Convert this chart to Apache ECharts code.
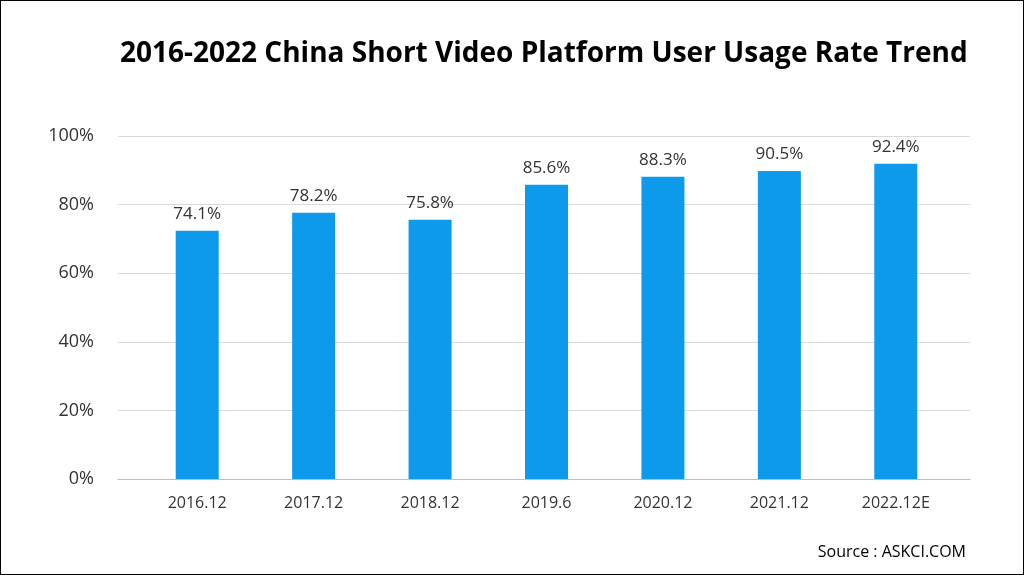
<!DOCTYPE html>
<html><head><meta charset="utf-8">
<script src="https://cdn.jsdelivr.net/npm/echarts@6/dist/echarts.min.js"></script>
<style>html,body{margin:0;padding:0;}#c{width:1022px;height:573px;border:1px solid #000;}</style>
</head><body><div id="c"></div>
<script>
const categories = ['2016.12','2017.12','2018.12','2019.6','2020.12','2021.12','2022.12E'];
const barValues = [72.4, 77.6, 75.6, 85.8, 88.1, 89.8, 91.9];
const labelTexts = ['74.1%','78.2%','75.8%','85.6%','88.3%','90.5%','92.4%'];
const yTicks = [0, 20, 40, 60, 80, 100];
const chart = echarts.init(document.getElementById('c'));
chart.setOption({
  textStyle:{fontFamily:'Open Sans'},
  title:[{text:'2016-2022 China Short Video Platform User Usage Rate Trend',left:114,top:34,
    textStyle:{fontSize:28,fontWeight:'bold',color:'#000',fontFamily:'Open Sans'}},
    {text:'Source : ASKCI.COM',right:52,top:538,textStyle:{fontSize:16,fontWeight:'normal',color:'#000',fontFamily:'Open Sans'}}],
  grid:[{left:117,right:53,top:135,bottom:95},{left:138,right:69,top:135,bottom:95}],
  xAxis:[{type:'value',gridIndex:0,min:0,max:1,show:true,axisLabel:{show:false},axisTick:{show:false},splitLine:{show:false},
    axisLine:{show:true,onZero:false,lineStyle:{color:'#bfbfbf'}}},
    {type:'category',gridIndex:1,data:categories,axisTick:{show:false},
    axisLine:{show:false},
    axisLabel:{fontSize:16,color:'#333',margin:16}}],
  yAxis:[{type:'value',gridIndex:0,min:yTicks[0],max:yTicks[yTicks.length-1],interval:20,
    axisLine:{show:false},axisTick:{show:false},
    axisLabel:{formatter:'{value}%',fontSize:18,color:'#333',margin:24},
    splitLine:{lineStyle:{color:'#d9d9d9'}}},
    {type:'value',gridIndex:1,min:yTicks[0],max:yTicks[yTicks.length-1],interval:20,show:false,splitLine:{show:false}}],
  series:[{type:'bar',xAxisIndex:1,yAxisIndex:1,data:barValues,barWidth:43,itemStyle:{color:'#0e9aea'},
    label:{show:true,position:'top',distance:8,fontSize:17,color:'#333',
      formatter:p=>labelTexts[p.dataIndex]}}]
});
</script></body></html>
